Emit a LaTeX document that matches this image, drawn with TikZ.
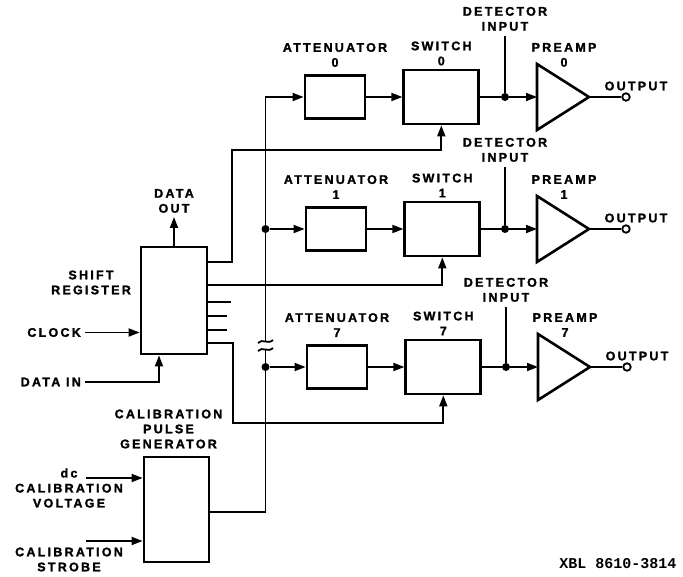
\documentclass[tikz,border=0pt]{standalone}
\usepackage{fontspec}
\setmainfont{Liberation Sans}
\newfontfamily\lblfont{Liberation Sans Bold}[LetterSpace=18,FakeBold=1.6]
\newfontfamily\tagfont{Liberation Mono}
\usetikzlibrary{arrows.meta,positioning}

\begin{document}
\begin{tikzpicture}[x=1pt,y=-1pt,
box/.style={draw,line width=2.8pt,inner sep=0pt},
att/.style={box,minimum width=60pt,minimum height=43pt},
sw/.style={box,minimum width=75pt,minimum height=54pt},
tri/.style={draw,line width=2.6pt},
lbl/.style={font=\lblfont\fontsize{12.5}{15}\selectfont,align=center,inner sep=0pt},
wire/.style={line width=1.8pt},
arr/.style={wire,-{Triangle[length=11pt,width=8pt]}},
dot/.style={circle,fill,inner sep=0pt,minimum size=8pt},
term/.style={circle,draw,line width=1.8pt,inner sep=0pt,minimum size=7.5pt,fill=white}
]
\useasboundingbox (0,0) rectangle (683,577);

\node[att] (a0) at (335,97) {};
\node[sw,right=36pt of a0] (s0) {};
\node[lbl,above=7pt of a0] (al0) {ATTENUATOR\\0};
\node[lbl,above=3pt of s0] (sl0) {SWITCH\\0};
\node[dot] (j0) at (505,97) {};
\coordinate (d0) at (505,36);
\node[lbl,above=5pt of d0] (dl0) {DETECTOR\\INPUT};
\coordinate (p0) at (537,97);
\draw[tri] (p0) ++(0,-33) -- ++(52,33) coordinate (q0) -- ++(-52,33) -- cycle;
\node[lbl,anchor=south] (pl0) at (564,67) {PREAMP\\0};
\node[term] (o0) at (626,97) {};
\node[lbl] (ol0) at (636,86) {OUTPUT};

\node[att] (a1) at (336,229) {};
\node[sw,right=36pt of a1] (s1) {};
\node[lbl,above=7pt of a1] (al1) {ATTENUATOR\\1};
\node[lbl,above=3pt of s1] (sl1) {SWITCH\\1};
\node[dot] (j1) at (505,229) {};
\coordinate (d1) at (505,167);
\node[lbl,above=5pt of d1] (dl1) {DETECTOR\\INPUT};
\coordinate (p1) at (537,229);
\draw[tri] (p1) ++(0,-33) -- ++(52,33) coordinate (q1) -- ++(-52,33) -- cycle;
\node[lbl,anchor=south] (pl1) at (564,199) {PREAMP\\1};
\node[term] (o1) at (626,229) {};
\node[lbl] (ol1) at (636,218) {OUTPUT};

\node[att] (a7) at (337,367) {};
\node[sw,right=36pt of a7] (s7) {};
\node[lbl,above=7pt of a7] (al7) {ATTENUATOR\\7};
\node[lbl,above=3pt of s7] (sl7) {SWITCH\\7};
\node[dot] (j7) at (506,367) {};
\coordinate (d7) at (506,307);
\node[lbl,above=5pt of d7] (dl7) {DETECTOR\\INPUT};
\coordinate (p7) at (538,367);
\draw[tri] (p7) ++(0,-33) -- ++(52,33) coordinate (q7) -- ++(-52,33) -- cycle;
\node[lbl,anchor=south] (pl7) at (565,337) {PREAMP\\7};
\node[term] (o7) at (627,367) {};
\node[lbl] (ol7) at (637,356) {OUTPUT};

\node[box,minimum width=66pt,minimum height=107pt] (sr) at (174,300.5) {};
\node[lbl] (srl) at (91,282.5) {SHIFT\\REGISTER};
\coordinate (dout) at (174,217);
\node[lbl,above=4pt of dout] (doutl) {DATA\\OUT};
\node[lbl,anchor=east] (clk) at (81,332.5) {CLOCK};
\node[lbl,anchor=east] (din) at (81,382) {DATA IN};

\node[box,minimum width=65pt,minimum height=105pt] (cp) at (176.5,509.5) {};
\node[lbl,above=7pt of cp,xshift=-8pt] (cpl) {CALIBRATION\\PULSE\\GENERATOR};
\node[lbl] (dcl) at (69,488) {dc\\CALIBRATION\\VOLTAGE};
\node[lbl] (stl) at (69,559.5) {CALIBRATION\\STROBE};
\coordinate (dcin) at (86,478);
\coordinate (stin) at (86,541);

\coordinate (b0) at (265.5,97);
\node[dot] (b1) at (265.5,229) {};
\node[dot] (b7) at (265.5,367) {};
\coordinate (k1) at (265.5,342);
\coordinate (k2) at (265.5,349.5);
\coordinate (e0) at (232,150);
\coordinate (e7) at (233,423);

\node[font=\tagfont\bfseries\fontsize{15}{15}\selectfont,inner sep=0pt] (xbl) at (618,564) {XBL 8610-3814};

\draw[arr] (k1) -- (b0) -- (a0);
\draw[wire] (cp.east |- 0,512) -| (k2);
\draw[wire] (258,343) .. controls (262,338) and (268,345) .. (273,340);
\draw[wire] (258,351) .. controls (262,346) and (268,353) .. (273,348);
\draw[arr] (b1) -- (a1); \draw[arr] (b7) -- (a7);
\draw[arr] (a0) -- (s0); \draw[arr] (a1) -- (s1); \draw[arr] (a7) -- (s7);
\draw[wire] (s0) -- (j0); \draw[wire] (s1) -- (j1); \draw[wire] (s7) -- (j7);
\draw[wire] (d0) -- (j0); \draw[wire] (d1) -- (j1); \draw[wire] (d7) -- (j7);
\draw[arr] (j0) -- (p0); \draw[arr] (j1) -- (p1); \draw[arr] (j7) -- (p7);
\draw[wire] (q0) -- (o0); \draw[wire] (q1) -- (o1); \draw[wire] (q7) -- (o7);

\draw[arr] (sr.east |- 0,262) -| (e0) -| (s0);
\draw[arr] (sr.east |- 0,285) -| (s1);
\draw[wire] (sr.east |- 0,302) -- ++(23,0);
\draw[wire] (sr.east |- 0,316) -- ++(19,0);
\draw[wire] (sr.east |- 0,330) -- ++(19,0);
\draw[arr] (sr.east |- 0,343) -| (e7) -| (s7);
\draw[arr] (sr) -- (dout);
\draw[arr] ([xshift=4pt]clk.east) -- (sr.west |- clk);
\draw[arr] ([xshift=4pt]din.east) -| (sr.south -| 159,0);
\draw[arr] (dcin) -- (cp.west |- dcin);
\draw[arr] (stin) -- (cp.west |- stin);
\end{tikzpicture}
\end{document}
